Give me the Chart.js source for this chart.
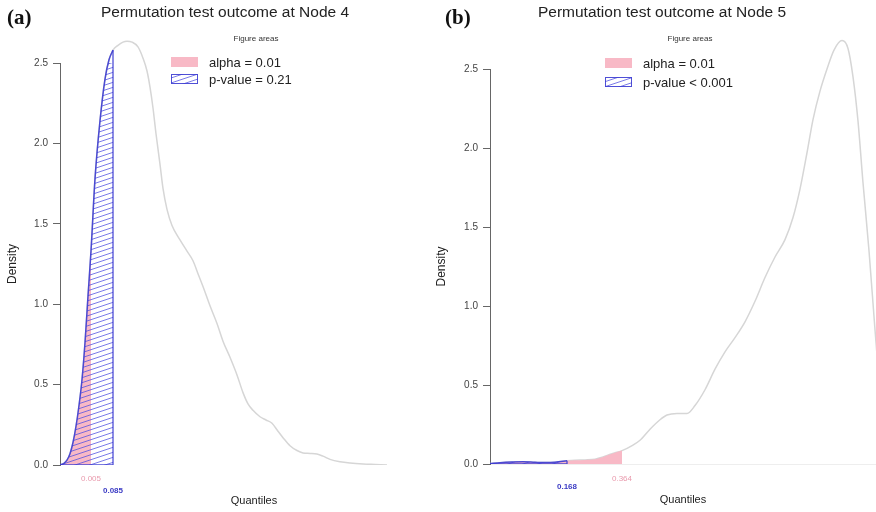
<!DOCTYPE html>
<html>
<head>
<meta charset="utf-8">
<script src="https://cdn.jsdelivr.net/npm/chart.js@4.4.1/dist/chart.umd.min.js"></script>
<style>
    body { margin: 0; background: #fff; width: 876px; height: 512px; position: relative; overflow: hidden; }
    canvas { position: absolute; top: 0; }
    #node4 { left: 0; }
    #node5 { left: 430px; }
</style>
</head>
<body>
<canvas id="node4" width="452" height="512"></canvas>
<canvas id="node5" width="446" height="512"></canvas>
<script>
// Node 4 - permutation density (x = statistic, y = density)
const node4X = [0, 0.04, 0.07, 0.10, 0.13, 0.16, 0.19, 0.22, 0.25, 0.28,
    0.31, 0.35, 0.40, 0.45, 0.49, 0.53, 0.58, 0.63, 0.67, 0.72,
    0.78, 0.83, 0.87, 0.90, 0.93, 0.96, 1.00, 1.03, 1.07, 1.12,
    1.20, 1.27, 1.33, 1.38, 1.43, 1.50, 1.57, 1.63, 1.70, 1.77,
    1.83, 1.88, 1.93, 2.00, 2.06, 2.12, 2.18, 2.23, 2.30, 2.37,
    2.43, 2.50, 2.57, 2.63, 2.70, 2.80, 2.90, 3.03, 3.15, 3.27];
const node4Density = [0, 0.01, 0.03, 0.07, 0.14, 0.24, 0.37, 0.53, 0.76, 1.05,
    1.33, 1.78, 2.14, 2.40, 2.52, 2.58, 2.61, 2.63, 2.635, 2.63,
    2.60, 2.53, 2.45, 2.35, 2.22, 2.06, 1.87, 1.72, 1.59, 1.49,
    1.40, 1.33, 1.27, 1.19, 1.11, 0.99, 0.88, 0.77, 0.67, 0.56,
    0.45, 0.38, 0.34, 0.30, 0.28, 0.26, 0.21, 0.17, 0.12, 0.09,
    0.075, 0.072, 0.068, 0.055, 0.035, 0.02, 0.012, 0.006, 0.003, 0];
const node4AlphaCut = 0.31;
const node4PCut = 0.53;
const node4CutLabels = ['0.005', '0.085'];
const node4Legend = ['alpha = 0.01', 'p-value = 0.21'];

// Node 5
const node5X = [0, 0.10, 0.22, 0.33, 0.45, 0.55, 0.65, 0.77, 0.85, 0.95,
    1.05, 1.13, 1.22, 1.32, 1.43, 1.50, 1.60, 1.70, 1.77, 1.87,
    1.97, 2.05, 2.15, 2.25, 2.35, 2.45, 2.55, 2.65, 2.75, 2.85,
    2.95, 3.03, 3.10, 3.17, 3.23, 3.30, 3.37, 3.44, 3.52, 3.58,
    3.63, 3.68, 3.73, 3.79, 3.85, 3.91, 3.97, 4.03];
const node5Density = [0.003, 0.008, 0.012, 0.014, 0.011, 0.009, 0.011, 0.02, 0.024, 0.026,
    0.03, 0.045, 0.065, 0.085, 0.12, 0.15, 0.22, 0.28, 0.31, 0.32,
    0.32, 0.37, 0.47, 0.60, 0.71, 0.80, 0.90, 1.03, 1.18, 1.31,
    1.42, 1.56, 1.74, 1.97, 2.18, 2.36, 2.50, 2.62, 2.68, 2.63,
    2.45, 2.17, 1.78, 1.35, 0.85, 0.40, 0.13, 0.03];
const node5AlphaCut = 1.32;
const node5PCut = 0.77;
const node5CutLabels = ['0.364', '0.168'];
const node5Legend = ['alpha = 0.01', 'p-value < 0.001'];

const yTicks = [0, 0.5, 1.0, 1.5, 2.0, 2.5];

const PINK = '#f8b9c6';
const BLUE = 'rgba(60, 60, 210, 0.9)';
const CURVE = '#d6d6d6';
const SANS = '"Liberation Sans", Arial, sans-serif';

function hatchPattern(color) {
    const tile = document.createElement('canvas');
    tile.width = 15;
    tile.height = 5;
    const c = tile.getContext('2d');
    c.strokeStyle = color;
    c.lineWidth = 0.9;
    [-5, 0, 5].forEach(dy => {
        c.beginPath();
        c.moveTo(-15, 10 + dy);
        c.lineTo(30, -5 + dy);
        c.stroke();
    });
    return c.createPattern(tile, 'repeat');
}
const HATCH = hatchPattern('rgba(80, 80, 225, 0.85)');

// title, panel tag and the "Figure areas" legend
const panelDecor = {
    id: 'panelDecor',
    afterDraw(chart, args, o) {
        const ctx = chart.ctx;
        ctx.save();
        ctx.textBaseline = 'middle';

        ctx.fillStyle = '#111';
        ctx.textAlign = 'left';
        ctx.font = 'bold 21px "Liberation Serif", "DejaVu Serif", serif';
        ctx.fillText(o.tag, o.tagX, 19);

        ctx.fillStyle = '#222';
        ctx.textAlign = 'center';
        ctx.font = '15.5px ' + SANS;
        ctx.fillText(o.title, o.titleX, 13);

        ctx.fillStyle = '#333';
        ctx.font = '8px ' + SANS;
        ctx.fillText('Figure areas', o.legendCenter, 39);

        ctx.textAlign = 'left';
        ctx.font = '13px ' + SANS;
        o.rows.forEach((rowY, i) => {
            if (i === 0) {
                ctx.fillStyle = PINK;
                ctx.fillRect(o.boxX, rowY - 5, 27, 10);
            } else {
                ctx.fillStyle = HATCH;
                ctx.fillRect(o.boxX, rowY - 5, 27, 10);
                ctx.strokeStyle = BLUE;
                ctx.lineWidth = 1;
                ctx.strokeRect(o.boxX + 0.5, rowY - 4.5, 26, 9);
            }
            ctx.fillStyle = '#222';
            ctx.fillText(o.labels[i], o.boxX + 38, rowY + 1);
        });
        ctx.restore();
    }
};

function buildDatasets(xs, ys, alphaCut, pCut) {
    const curve = xs.map((x, i) => ({ x, y: ys[i] }));
    const iA = xs.indexOf(alphaCut);
    const iP = xs.indexOf(pCut);
    return [
        {
            data: curve, borderColor: CURVE, borderWidth: 1.5, fill: false, order: 3,
            cubicInterpolationMode: 'monotone', clip: { left: 0, top: false, right: 0, bottom: 0 }
        },
        {
            data: curve.slice(0, iA + 1), borderWidth: 0, borderColor: 'rgba(0,0,0,0)',
            backgroundColor: PINK, fill: 'origin', order: 2,
            cubicInterpolationMode: 'monotone', clip: { left: 0, top: false, right: 0, bottom: 0 }
        },
        {
            data: curve.slice(0, iP + 1), borderColor: BLUE, borderWidth: 1.5,
            backgroundColor: HATCH, fill: 'origin', order: 1,
            cubicInterpolationMode: 'monotone', clip: { left: 0, top: false, right: 0, bottom: 0 }
        },
        {
            data: [{ x: pCut, y: ys[iP] }, { x: pCut, y: 0 }, { x: 0, y: 0 }],
            borderColor: BLUE, borderWidth: 1.3, fill: false, tension: 0, order: 0,
            clip: { left: 0, top: false, right: 0, bottom: 0 }
        }
    ];
}

function makeChart(id, p) {
    const cutAxis = (value, label, color, bold, pad, height, weight, withTitle, titleBottom) => ({
        type: 'linear', axis: 'x', position: 'bottom', weight: weight,
        min: 0, max: p.xMax,
        grid: { display: false, drawTicks: false },
        border: { display: !!p.baseline && weight === 0, color: '#eeeeee' },
        afterBuildTicks: scale => { scale.ticks = [{ value: value }]; },
        afterFit: scale => { scale.height = height; },
        ticks: {
            autoSkip: false, maxRotation: 0, padding: pad, color: color,
            font: { family: SANS, size: 8, weight: bold ? 'bold' : 'normal' },
            callback: () => label
        },
        title: {
            display: withTitle, text: 'Quantiles', color: '#222',
            font: { family: SANS, size: 11 }, padding: { top: 0, bottom: titleBottom }
        }
    });

    return new Chart(document.getElementById(id), {
        type: 'line',
        data: { datasets: buildDatasets(p.xs, p.ys, p.alphaCut, p.pCut) },
        plugins: [panelDecor],
        options: {
            responsive: false,
            animation: false,
            devicePixelRatio: 1,
            events: [],
            layout: { padding: { top: p.top, right: p.right, left: 0, bottom: 0 } },
            elements: { point: { radius: 0 } },
            scales: {
                x: cutAxis(p.alphaCut, p.cutLabels[0], '#e99aad', false, p.pinkPad, p.xHeight, 0, false, 0),
                x2: cutAxis(p.pCut, p.cutLabels[1], '#3b3bc4', true, p.bluePad, p.x2Height, 1, true, p.titleBottom),
                y: {
                    type: 'linear', min: 0, max: 2.5,
                    afterBuildTicks: scale => { scale.ticks = yTicks.map(v => ({ value: v })); },
                    afterFit: scale => { scale.width = 60; },
                    grid: { drawOnChartArea: false, drawTicks: true, tickLength: 7, color: '#666' },
                    border: { display: true, color: '#666', width: 1 },
                    ticks: {
                        padding: 5, color: '#444', font: { family: SANS, size: 10 },
                        callback: v => v.toFixed(1)
                    },
                    title: {
                        display: true, text: 'Density', color: '#222',
                        font: { family: SANS, size: 12 }, padding: { top: p.densityPad, bottom: 0 }
                    }
                }
            },
            plugins: {
                legend: { display: false },
                tooltip: { enabled: false },
                panelDecor: {
                    tag: p.tag, tagX: p.tagX, title: p.title, titleX: p.titleX,
                    legendCenter: p.legendCenter, boxX: p.boxX, rows: p.rows, labels: p.legend
                }
            }
        }
    });
}

makeChart('node4', {
    xs: node4X, ys: node4Density, alphaCut: node4AlphaCut, pCut: node4PCut,
    cutLabels: node4CutLabels, legend: node4Legend, xMax: 3.88,
    top: 63, right: 4, xHeight: 20, x2Height: 27, pinkPad: 9, bluePad: 1, titleBottom: 4,
    densityPad: 5, baseline: false,
    tag: '(a)', tagX: 7, title: 'Permutation test outcome at Node 4', titleX: 225,
    legendCenter: 256, boxX: 171, rows: [62, 79]
});

makeChart('node5', {
    xs: node5X, ys: node5Density, alphaCut: node5AlphaCut, pCut: node5PCut,
    cutLabels: node5CutLabels, legend: node5Legend, xMax: 3.86,
    top: 69, right: 0, xHeight: 18, x2Height: 30, pinkPad: 10, bluePad: 0, titleBottom: 5,
    densityPad: 4, baseline: true,
    tag: '(b)', tagX: 15, title: 'Permutation test outcome at Node 5', titleX: 232,
    legendCenter: 260, boxX: 175, rows: [63, 82]
});
</script>
</body>
</html>
